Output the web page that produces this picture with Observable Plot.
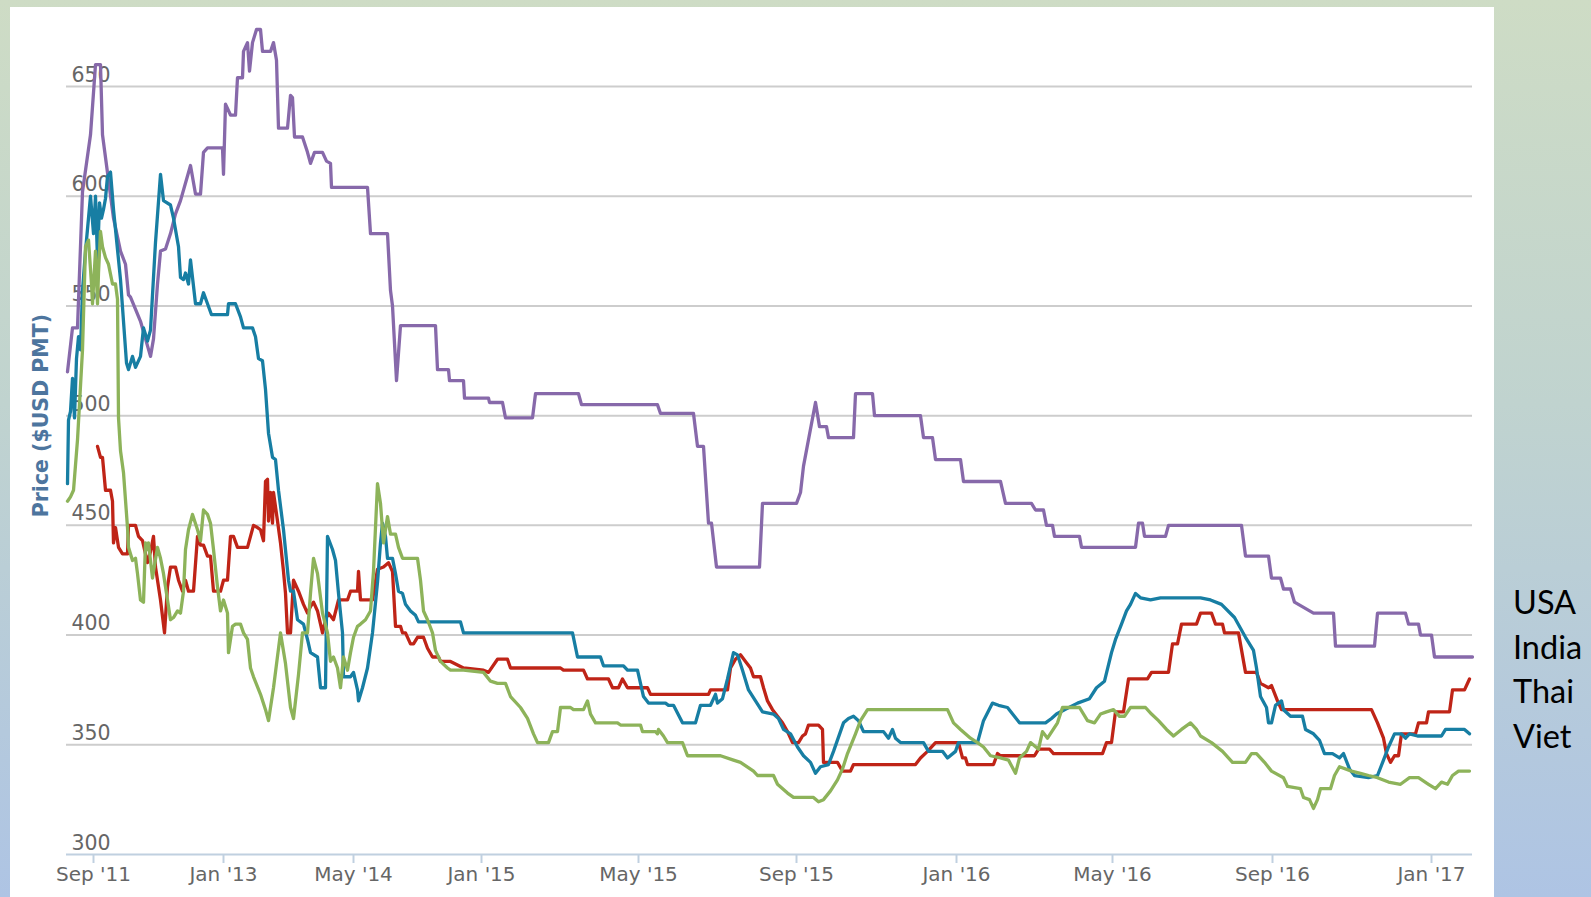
<!DOCTYPE html>
<html><head><meta charset="utf-8">
<script src="https://cdn.jsdelivr.net/npm/d3@7"></script>
<script src="https://cdn.jsdelivr.net/npm/@observablehq/plot@0.6"></script>
<style>
html,body{margin:0;padding:0;}
body{width:1591px;height:897px;overflow:hidden;position:relative;
  background:linear-gradient(to bottom,#cedcc5 0%,#c0d3cf 45%,#aec4e4 100%);}
#panel{position:absolute;left:10px;top:7px;width:1484px;height:890px;background:#fff;}
#legend{position:absolute;left:1494px;top:0;}
</style></head><body>
<div id="panel"></div>
<div id="legend"></div>
<script>
// ---- data (x = observation index on the ordinal time axis, y = price $USD per metric ton)
const seriesNames = ["USA", "India", "Thai", "Viet"];
const seriesColors = ["#8769aa", "#bf2417", "#177ea3", "#8db35a"];
const tickIndex = [27, 157, 287, 415, 572, 730, 890, 1046, 1206, 1365];
const tickLabels = ["Sep '11", "Jan '13", "May '14", "Jan '15", "May '15", "Sep '15", "Jan '16", "May '16", "Sep '16", "Jan '17"];
const yTicks = [300, 350, 400, 450, 500, 550, 600, 650];

const usa = [[1,520],[6,540],[11,540],[16,602],[24,628],[29,660],[34,660],[36,628],[47,590],[54,575],[59,569],[62,555],[64,554],[74,543],[84,527],[87,535],[91,560],[94,575],[99,576],[104,583],[109,592],[114,598],[124,614],[129,601],[134,601],[137,620],[141,622],[156,622],[157,610],[159,642],[164,637],[169,637],[171,654],[176,654],[177,666],[181,670],[183,657],[186,670],[190,676],[194,676],[196,666],[204,666],[207,670],[210,662],[212,631],[221,631],[224,646],[226,645],[228,627],[236,627],[241,620],[244,615],[248,620],[256,620],[260,616],[264,615],[265,604],[301,604],[304,583],[321,583],[324,557],[326,550],[330,516],[334,541],[369,541],[371,521],[382,521],[383,516],[397,516],[398,508],[422,508],[423,506],[436,506],[439,499],[466,499],[469,510],[512,510],[515,505],[591,505],[594,501],[627,501],[631,486],[637,486],[642,451],[645,451],[650,431],[693,431],[696,460],[730,460],[734,465],[737,477],[749,506],[753,495],[760,495],[762,490],[787,490],[789,510],[806,510],[808,500],[854,500],[857,490],[866,490],[869,480],[894,480],[897,470],[934,470],[939,460],[965,460],[969,457],[977,457],[980,450],[986,450],[988,445],[1013,445],[1015,440],[1069,440],[1072,451],[1076,451],[1078,445],[1099,445],[1102,450],[1175,450],[1179,436],[1202,436],[1205,426],[1214,426],[1217,421],[1224,421],[1228,415],[1247,410],[1267,410],[1269,395],[1308,395],[1311,410],[1339,410],[1342,405],[1352,405],[1354,400],[1365,400],[1368,390],[1406,390]];

const india = [[31,486],[34,481],[36,481],[39,466],[44,466],[46,461],[47,442],[49,449],[52,440],[56,437],[61,437],[62,450],[69,450],[72,445],[76,443],[81,433],[84,438],[87,445],[89,431],[94,416],[98,401],[101,422],[104,431],[109,431],[112,425],[116,420],[119,425],[122,420],[127,420],[131,445],[134,441],[137,441],[141,436],[144,436],[147,420],[154,420],[157,425],[161,425],[164,445],[167,445],[171,440],[181,440],[184,445],[187,450],[191,449],[194,448],[197,443],[199,470],[201,471],[202,452],[204,465],[206,451],[207,465],[211,452],[214,442],[217,429],[219,419],[221,401],[224,401],[227,425],[232,420],[237,414],[241,410],[244,413],[247,415],[251,411],[256,401],[259,407],[262,410],[267,407],[272,416],[281,416],[284,420],[291,420],[292,429],[294,416],[306,416],[311,430],[317,431],[322,433],[326,429],[329,404],[334,404],[336,401],[339,401],[344,396],[347,396],[351,399],[357,399],[361,394],[366,390],[372,390],[374,388],[384,388],[397,385],[417,384],[422,383],[431,389],[441,389],[444,385],[494,385],[497,384],[517,384],[521,380],[542,380],[546,376],[552,376],[556,380],[561,376],[581,376],[584,373],[642,373],[644,375],[661,375],[664,385],[669,389],[674,391],[679,388],[684,385],[687,381],[694,381],[697,376],[701,370],[706,366],[711,363],[716,360],[721,356],[726,351],[732,351],[736,354],[739,355],[742,359],[752,359],[756,357],[757,342],[771,342],[776,338],[784,338],[787,341],[849,341],[854,344],[861,347],[869,351],[892,351],[896,344],[899,344],[901,341],[927,341],[931,346],[934,345],[968,345],[972,348],[983,348],[987,346],[1036,346],[1040,351],[1045,351],[1049,365],[1057,365],[1062,380],[1081,380],[1085,383],[1102,383],[1106,396],[1111,396],[1115,405],[1130,405],[1134,410],[1145,410],[1149,405],[1156,405],[1158,401],[1172,401],[1179,383],[1190,383],[1194,378],[1202,376],[1205,377],[1211,370],[1215,366],[1305,366],[1311,360],[1317,353],[1320,346],[1324,342],[1328,345],[1332,345],[1335,355],[1349,355],[1352,360],[1360,360],[1362,365],[1383,365],[1386,375],[1398,375],[1403,380]];

const thai = [[1,469],[2,498],[4,502],[6,517],[8,499],[10,526],[12,536],[14,530],[16,557],[19,575],[24,600],[27,583],[29,600],[31,571],[33,597],[35,590],[37,594],[39,599],[41,609],[44,611],[47,594],[54,562],[60,524],[62,521],[66,527],[69,522],[74,527],[77,540],[81,534],[84,539],[89,579],[94,610],[97,598],[104,596],[107,590],[112,577],[114,563],[117,562],[119,565],[122,560],[124,571],[129,551],[134,551],[137,556],[141,551],[145,546],[161,546],[162,551],[169,551],[174,545],[177,540],[186,540],[189,536],[192,526],[196,525],[199,512],[202,492],[206,481],[209,480],[212,466],[217,448],[222,425],[224,420],[227,420],[231,407],[237,405],[241,398],[244,392],[251,390],[254,376],[259,376],[261,445],[266,439],[269,434],[272,419],[276,401],[277,381],[284,381],[287,383],[291,375],[292,370],[296,376],[301,385],[306,401],[311,424],[314,442],[316,451],[319,445],[321,435],[326,435],[329,428],[332,420],[336,419],[339,414],[344,411],[349,409],[352,406],[394,406],[397,401],[506,401],[511,390],[534,390],[537,386],[557,386],[561,384],[571,384],[577,372],[582,369],[599,369],[602,368],[607,368],[616,360],[629,360],[634,368],[644,368],[649,373],[651,369],[656,371],[661,380],[667,392],[671,391],[676,384],[682,375],[689,370],[696,365],[707,364],[712,362],[717,357],[724,355],[731,349],[737,345],[744,342],[749,337],[754,340],[762,341],[767,347],[777,360],[782,362],[787,363],[792,361],[797,356],[817,356],[822,353],[826,357],[829,353],[834,351],[857,351],[862,347],[876,347],[881,344],[889,347],[892,351],[911,351],[917,361],[926,369],[932,368],[941,367],[953,360],[979,360],[985,362],[990,364],[998,366],[1011,369],[1023,371],[1030,376],[1038,379],[1045,392],[1049,398],[1055,405],[1060,411],[1064,414],[1069,419],[1074,417],[1084,416],[1094,417],[1134,417],[1144,416],[1155,414],[1168,408],[1179,399],[1187,393],[1190,385],[1194,372],[1200,367],[1202,360],[1205,360],[1209,368],[1215,370],[1217,366],[1224,363],[1236,363],[1239,357],[1247,355],[1253,352],[1258,346],[1266,346],[1273,344],[1277,346],[1283,339],[1288,336],[1302,335],[1311,336],[1317,343],[1322,349],[1328,355],[1335,355],[1339,353],[1343,355],[1351,354],[1375,354],[1379,357],[1398,357],[1403,355]];

const viet = [[1,461],[4,463],[7,466],[11,489],[16,530],[19,577],[22,580],[25,560],[26,551],[29,575],[31,551],[32,565],[34,584],[36,577],[39,572],[42,569],[46,560],[49,560],[51,553],[52,499],[54,484],[57,474],[61,449],[62,440],[66,434],[69,435],[71,428],[74,416],[77,415],[79,442],[81,439],[82,442],[86,426],[87,429],[91,440],[94,435],[97,428],[101,416],[104,407],[107,408],[111,411],[114,410],[117,420],[119,439],[122,448],[126,455],[131,448],[134,443],[137,457],[141,455],[144,451],[147,439],[151,422],[154,411],[157,416],[161,410],[162,392],[166,404],[169,405],[174,405],[177,401],[181,398],[184,385],[187,381],[194,373],[199,366],[202,361],[207,376],[214,401],[219,387],[224,367],[227,362],[232,382],[236,401],[241,401],[244,419],[247,435],[251,428],[256,410],[261,401],[264,388],[267,390],[271,385],[274,376],[277,390],[281,384],[284,392],[287,399],[291,404],[294,405],[299,407],[304,411],[307,429],[311,469],[314,460],[317,442],[321,454],[324,446],[329,446],[332,440],[336,435],[351,435],[354,425],[357,411],[361,407],[366,401],[369,393],[374,388],[381,385],[384,384],[397,384],[417,383],[424,379],[431,378],[439,378],[444,372],[454,367],[461,362],[467,355],[471,351],[482,351],[486,356],[491,356],[494,367],[504,367],[507,366],[517,366],[521,370],[524,364],[529,360],[551,360],[554,359],[574,359],[576,356],[589,356],[591,355],[592,357],[597,354],[601,351],[616,351],[621,345],[654,345],[667,343],[674,342],[687,338],[691,336],[707,336],[711,332],[721,328],[727,326],[747,326],[752,324],[757,325],[764,329],[771,334],[776,339],[781,346],[789,355],[794,361],[801,366],[881,366],[887,360],[894,357],[904,353],[911,351],[917,349],[924,345],[934,344],[942,343],[949,337],[953,344],[960,347],[964,351],[972,348],[976,356],[981,353],[991,360],[996,367],[1013,367],[1021,361],[1028,360],[1034,364],[1040,365],[1047,366],[1053,363],[1058,363],[1064,367],[1079,367],[1085,364],[1092,361],[1100,357],[1107,354],[1115,357],[1124,360],[1130,357],[1134,354],[1145,351],[1156,347],[1166,342],[1179,342],[1185,346],[1190,346],[1198,342],[1205,338],[1217,335],[1221,331],[1234,330],[1237,326],[1243,325],[1247,321],[1251,325],[1254,330],[1264,330],[1268,336],[1273,340],[1285,338],[1294,337],[1302,336],[1311,335],[1322,333],[1334,332],[1343,335],[1352,335],[1362,332],[1369,330],[1375,333],[1381,332],[1386,336],[1392,338],[1403,338]];

// ---- build table
const seriesData = [usa, india, thai, viet];
const rows = seriesData.flatMap((arr, k) => arr.map(([i, v]) => ({series: seriesNames[k], i, v})));
const labelOf = new Map(tickIndex.map((d, k) => [d, tickLabels[k]]));

const chart = Plot.plot({
  width: 1484,
  height: 890,
  marginLeft: 56,
  marginRight: 22,
  marginTop: 13.2,
  marginBottom: 43,
  x: {domain: [0, 1406]},
  y: {domain: [300, 680], axis: null},
  color: {domain: seriesNames, range: seriesColors},
  style: {background: "transparent", fontFamily: "'DejaVu Sans', sans-serif", color: "#666"},
  marks: [
    Plot.ruleY(yTicks.filter(d => d > 300), {stroke: "#cdcdcd", strokeWidth: 2}),
    Plot.ruleY([300], {stroke: "#c0d0e0", strokeWidth: 2}),
    Plot.axisX(tickIndex, {
      tickSize: 9, tickPadding: 3, stroke: "#c0d0e0", strokeWidth: 2,
      fill: "#666", fontSize: 20, label: null,
      tickFormat: d => labelOf.get(d)
    }),
    Plot.text(yTicks, {
      y: d => d, text: d => String(d), frameAnchor: "left",
      textAnchor: "start", lineAnchor: "bottom", dx: 5, dy: -5,
      fill: "#666", fontSize: 20.5
    }),
    Plot.text(["Price ($USD PMT)"], {
      text: d => d, frameAnchor: "left", textAnchor: "middle", lineAnchor: "middle",
      rotate: -90, dx: -25, dy: -22,
      fill: "#4d759e", fontSize: 20.5, fontWeight: "bold"
    }),
    Plot.line(rows, {
      x: "i", y: "v", z: "series", stroke: "series",
      strokeWidth: 3.3, strokeLinejoin: "round", strokeLinecap: "round"
    })
  ]
});
document.getElementById("panel").appendChild(chart);

// ---- legend (names only, as in the reference)
const leg = d3.select("#legend").append("svg").attr("width", 97).attr("height", 897);
leg.selectAll("text").data(seriesNames).join("text")
  .attr("x", 19)
  .attr("y", (d, k) => 614 + k * 44.7)
  .attr("font-family", "Lato, 'Open Sans', sans-serif")
  .attr("font-size", 32.5)
  .attr("fill", "#000")
  .text(d => d);
</script>
</body></html>
